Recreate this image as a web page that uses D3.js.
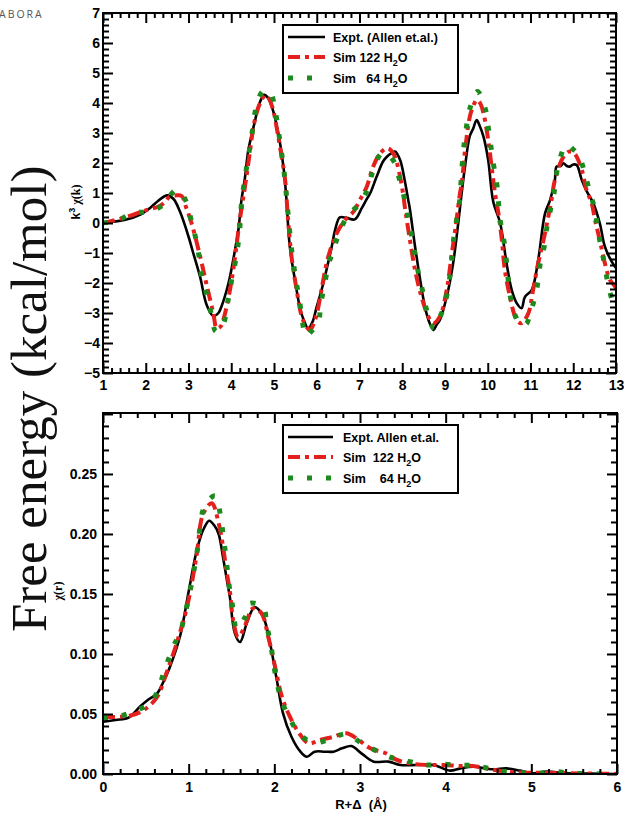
<!DOCTYPE html>
<html><head><meta charset="utf-8">
<script src="https://cdn.jsdelivr.net/npm/d3@7"></script>
<style>body{margin:0;background:#fff}svg{display:block}</style>
</head><body><svg id="c" width="624" height="816"></svg>
<script>
// ---------- Top panel data: k^3 chi(k) vs k ----------
const kTicks = [1,2,3,4,5,6,7,8,9,10,11,12,13];
const kChiTicks = [-5,-4,-3,-2,-1,0,1,2,3,4,5,6,7];

const kExpt = [1.0,1.5,1.9,2.1,2.3,2.5,2.65,2.8,3.0,3.1,3.27,3.43,3.58,3.7,3.78,3.9,3.97,4.1,4.17,4.24,4.32,4.4,4.56,4.65,4.77,4.87,4.95,5.1,5.22,5.28,5.37,5.49,5.61,5.7,5.8,5.9,6.0,6.1,6.19,6.35,6.43,6.54,6.7,6.89,7.05,7.17,7.25,7.4,7.55,7.64,7.75,7.83,7.95,8.06,8.14,8.18,8.3,8.42,8.53,8.63,8.73,8.8,8.88,9.04,9.19,9.31,9.39,9.47,9.58,9.66,9.74,9.82,9.9,10.01,10.13,10.29,10.44,10.56,10.68,10.79,10.87,11.03,11.18,11.34,11.46,11.57,11.61,11.7,11.77,11.85,11.92,12.0,12.08,12.2,12.31,12.47,12.62,12.74,12.9,13.0];
const chiExpt = [0.02,0.1,0.3,0.5,0.75,0.92,0.8,0.38,-0.45,-0.95,-1.79,-2.75,-3.1,-3.0,-2.75,-2.2,-1.79,-0.8,-0.2,0.77,1.5,2.43,3.43,3.95,4.27,4.15,3.88,2.99,1.88,1.0,-0.79,-1.9,-2.85,-3.25,-3.51,-3.3,-2.79,-2.3,-1.79,-0.79,-0.23,0.19,0.17,0.12,0.49,0.8,0.99,1.54,2.05,2.21,2.33,2.38,2.1,1.4,0.77,0.45,-0.79,-1.9,-2.79,-3.3,-3.57,-3.4,-3.23,-2.46,-1.34,0.0,1.0,1.9,2.9,3.15,3.43,3.21,2.88,2.1,0.7,0.0,-1.34,-2.23,-2.68,-2.84,-2.46,-2.23,-1.23,0.32,0.77,1.43,1.88,1.9,1.99,1.9,1.88,1.95,1.93,1.43,1.07,0.66,0.0,-0.79,-1.29,-1.5];

const kSim122 = [1.0,1.5,2.0,2.3,2.45,2.55,2.7,2.84,2.95,3.07,3.27,3.43,3.58,3.66,3.75,3.82,3.97,4.09,4.2,4.32,4.42,4.52,4.62,4.71,4.8,4.88,4.98,5.06,5.14,5.26,5.33,5.41,5.53,5.65,5.76,5.84,5.96,6.03,6.11,6.27,6.47,6.66,6.86,7.01,7.17,7.32,7.48,7.64,7.74,7.83,7.95,8.03,8.06,8.18,8.3,8.45,8.61,8.73,8.88,9.04,9.15,9.27,9.35,9.39,9.47,9.58,9.66,9.74,9.82,9.9,10.01,10.09,10.17,10.25,10.33,10.4,10.52,10.64,10.72,10.79,10.95,11.06,11.18,11.34,11.49,11.57,11.73,11.84,11.9,12.0,12.08,12.2,12.31,12.43,12.51,12.62,12.74,12.86,12.98,13.0];
const chiSim122 = [0.0,0.18,0.42,0.55,0.7,0.87,0.92,0.9,0.5,0.0,-1.1,-2.1,-3.0,-3.51,-3.45,-3.2,-2.23,-1.12,0.1,1.2,2.2,3.21,3.8,4.1,4.27,4.15,3.77,3.2,2.54,1.43,0.1,-1.12,-2.23,-3.12,-3.46,-3.57,-3.23,-2.85,-2.23,-1.12,-0.34,0.1,0.38,0.77,1.21,1.88,2.32,2.49,2.42,2.21,1.54,0.88,0.54,-0.57,-1.57,-2.46,-3.12,-3.34,-3.12,-2.23,-1.12,0.1,0.99,1.3,2.43,3.54,3.9,4.1,4.0,3.66,2.77,1.88,0.99,0.32,-0.57,-1.57,-2.46,-3.12,-3.3,-3.34,-3.01,-2.23,-1.34,-0.34,0.77,1.43,2.1,2.32,2.38,2.35,2.21,1.77,1.1,0.66,0.1,-0.57,-1.34,-1.9,-2.12,-2.2];

const kSim64 = [1.0,1.35,1.71,2.06,2.41,2.52,2.71,2.85,2.96,3.07,3.17,3.25,3.31,3.43,3.53,3.64,3.75,3.83,3.92,4.01,4.11,4.19,4.24,4.32,4.4,4.48,4.59,4.73,4.82,4.92,5.03,5.1,5.16,5.22,5.27,5.31,5.35,5.39,5.45,5.51,5.59,5.65,5.75,5.88,6.04,6.09,6.19,6.27,6.39,6.48,6.71,7.01,7.21,7.32,7.52,7.68,7.83,7.89,8.06,8.14,8.22,8.3,8.38,8.48,8.57,8.74,8.86,8.98,9.08,9.15,9.19,9.26,9.34,9.4,9.47,9.6,9.76,9.94,10.01,10.13,10.21,10.25,10.29,10.37,10.43,10.48,10.53,10.64,10.77,10.9,10.99,11.1,11.18,11.24,11.32,11.38,11.49,11.55,11.65,11.84,12.0,12.14,12.27,12.39,12.51,12.57,12.66,12.74,12.82,12.92,13.0];
const chiSim64 = [0.0,0.09,0.34,0.38,0.6,0.82,1.1,0.95,0.66,0.05,-0.51,-1.14,-1.79,-2.4,-3.01,-3.62,-3.5,-3.32,-2.62,-1.9,-1.18,-0.34,0.66,1.5,2.21,2.93,3.9,4.38,4.4,4.34,3.73,3.1,2.51,1.88,1.23,0.6,-0.01,-0.62,-1.29,-1.9,-2.51,-3.12,-3.77,-3.6,-3.29,-2.73,-2.01,-1.4,-0.9,-0.51,0.21,0.66,1.19,1.77,2.32,2.25,1.99,1.69,0.77,0.16,-0.43,-1.07,-1.68,-2.29,-2.9,-3.51,-3.2,-2.77,-2.12,-1.34,-0.68,0.0,0.71,1.9,2.88,3.9,4.38,3.82,3.21,1.99,1.32,0.71,0.1,-0.51,-1.18,-1.9,-2.46,-3.07,-3.4,-3.37,-3.01,-2.5,-1.9,-1.23,-0.79,-0.18,0.6,0.99,1.93,2.6,2.45,2.21,1.66,1.01,0.43,-0.21,-0.84,-1.46,-2.07,-2.62,-2.9];

// ---------- Bottom panel data: chi(r) vs R+Delta ----------
const rTicks = [0,1,2,3,4,5,6];
const chiRTicks = [0.00,0.05,0.10,0.15,0.20,0.25];

const rExpt = [0,0.15,0.3,0.43,0.53,0.63,0.7,0.78,0.9,1.0,1.1,1.18,1.24,1.3,1.35,1.4,1.45,1.48,1.54,1.6,1.68,1.77,1.87,1.95,2.03,2.1,2.2,2.3,2.38,2.47,2.59,2.69,2.79,2.9,3.02,3.16,3.33,3.47,3.66,3.86,4.05,4.17,4.32,4.55,4.71,4.87,5.02,5.18,5.41,5.7,6.0];
const chirExpt = [0.0436,0.045,0.047,0.056,0.062,0.067,0.076,0.089,0.115,0.152,0.188,0.205,0.211,0.207,0.2,0.181,0.16,0.148,0.117,0.11,0.126,0.139,0.131,0.109,0.078,0.051,0.031,0.019,0.0144,0.0186,0.0186,0.0186,0.0214,0.0233,0.017,0.0103,0.0103,0.0075,0.0075,0.0075,0.0028,0.0047,0.0061,0.0039,0.0047,0.0028,0.0006,0.002,0.0006,0.0003,0.0];

const rSim122 = [0,0.3,0.47,0.63,0.74,0.86,0.98,1.09,1.17,1.27,1.35,1.4,1.44,1.48,1.52,1.58,1.66,1.75,1.85,1.93,2.01,2.09,2.18,2.28,2.4,2.53,2.69,2.84,2.96,3.12,3.31,3.43,3.58,3.78,3.97,4.17,4.32,4.52,4.71,4.94,5.2,5.6,6.0];
const chirSim122 = [0.0478,0.0483,0.053,0.064,0.084,0.109,0.139,0.181,0.217,0.2256,0.209,0.19,0.17,0.153,0.128,0.114,0.124,0.138,0.134,0.114,0.089,0.064,0.048,0.035,0.0256,0.0283,0.031,0.0339,0.0297,0.0214,0.017,0.0117,0.0089,0.0075,0.0075,0.0067,0.0067,0.0039,0.0019,0.0011,0.001,0.0005,0.0];

const rSim64 = [0,0.18,0.35,0.55,0.65,0.7,0.82,0.9,0.96,1.05,1.1,1.19,1.31,1.37,1.4,1.43,1.48,1.52,1.56,1.66,1.71,1.87,1.91,1.96,1.99,2.03,2.08,2.18,2.3,2.47,2.67,2.84,3.02,3.21,3.39,3.58,3.78,3.95,4.15,4.32,4.5,4.69,4.89,5.06,5.26,5.5,6.0];
const chirSim64 = [0.047,0.048,0.052,0.059,0.071,0.0825,0.106,0.118,0.134,0.165,0.186,0.224,0.2317,0.216,0.2006,0.184,0.153,0.137,0.121,0.131,0.142,0.139,0.124,0.1075,0.092,0.077,0.0617,0.0464,0.0325,0.0261,0.0297,0.0333,0.0256,0.0186,0.0131,0.0103,0.0075,0.0083,0.0075,0.007,0.0047,0.002,0.001,0.0005,0.002,0.0005,0.0];

// legend labels (parts: [text, subscript, text])
const legendTop = [["Expt. (Allen et.al.)"],["Sim 122 H","2","O"],["Sim   64 H","2","O"]];
const legendBottom = [["Expt. Allen et.al."],["Sim  122 H","2","O"],["Sim    64 H","2","O"]];

// ---------- drawing ----------
const svg = d3.select("#c");
const FONT = "'Liberation Sans', Arial, sans-serif";
const styles = [
  {stroke:"#000000", width:2.6, dash:null},
  {stroke:"#e3201b", width:4, dash:"12 5 4 5"},
  {stroke:"#1c8a1c", width:5, dash:"5 14"}
];

function drawPanel(cfg){
  const x = d3.scaleLinear().domain(cfg.xDom).range([cfg.x0, cfg.x1]);
  const y = d3.scaleLinear().domain(cfg.yDom).range([cfg.y1, cfg.y0]);
  const g = svg.append("g");

  const clipId = "clip"+cfg.id;
  svg.append("clipPath").attr("id", clipId).append("rect")
    .attr("x", cfg.x0).attr("y", cfg.y0).attr("width", cfg.x1-cfg.x0).attr("height", cfg.y1-cfg.y0);

  const line = d3.line().x(d=>x(d[0])).y(d=>y(d[1])).curve(d3.curveCatmullRom.alpha(0.5));
  const plot = g.append("g").attr("clip-path", `url(#${clipId})`);
  cfg.series.forEach((s,i)=>{
    const pts = s.xs.map((v,j)=>[v, s.ys[j]]);
    const st = styles[i];
    plot.append("path").attr("d", line(pts)).attr("fill","none")
      .attr("stroke", st.stroke).attr("stroke-width", st.width)
      .attr("stroke-dasharray", st.dash).attr("stroke-linejoin","round");
  });

  const xMinor = cfg.xMinor.filter(v=>!cfg.xTicks.some(t=>Math.abs(t-v)<1e-6));
  const yMinor = cfg.yMinor.filter(v=>!cfg.yMajor.some(t=>Math.abs(t-v)<1e-6));
  const axStyle = sel => { sel.select(".domain").remove(); sel.selectAll("line").attr("stroke","#000").attr("stroke-width",2); };

  g.append("g").attr("transform",`translate(0,${cfg.y1})`).call(d3.axisBottom(x).tickValues(xMinor).tickSize(-5).tickFormat("")).call(axStyle);
  g.append("g").attr("transform",`translate(0,${cfg.y0})`).call(d3.axisTop(x).tickValues(xMinor).tickSize(-5).tickFormat("")).call(axStyle);
  g.append("g").attr("transform",`translate(${cfg.x0},0)`).call(d3.axisLeft(y).tickValues(yMinor).tickSize(-6).tickFormat("")).call(axStyle);
  g.append("g").attr("transform",`translate(${cfg.x1},0)`).call(d3.axisRight(y).tickValues(yMinor).tickSize(-6).tickFormat("")).call(axStyle);

  const bx = g.append("g").attr("transform",`translate(0,${cfg.y1})`)
    .call(d3.axisBottom(x).tickValues(cfg.xTicks).tickSize(-10).tickPadding(cfg.xPad).tickFormat(d3.format("d"))).call(axStyle);
  g.append("g").attr("transform",`translate(0,${cfg.y0})`).call(d3.axisTop(x).tickValues(cfg.xTicks).tickSize(-10).tickFormat("")).call(axStyle);
  const by = g.append("g").attr("transform",`translate(${cfg.x0},0)`)
    .call(d3.axisLeft(y).tickValues(cfg.yMajor).tickSize(-10).tickPadding(cfg.yPad).tickFormat(v=> cfg.yLabels.some(t=>Math.abs(t-v)<1e-9)? cfg.yFmt(v):"")).call(axStyle);
  g.append("g").attr("transform",`translate(${cfg.x1},0)`).call(d3.axisRight(y).tickValues(cfg.yMajor).tickSize(-10).tickFormat("")).call(axStyle);
  [bx,by].forEach(a=>a.selectAll("text").attr("font-family",FONT).attr("font-weight","bold").attr("font-size",14).attr("fill","#000"));

  g.append("rect").attr("x",cfg.x0).attr("y",cfg.y0).attr("width",cfg.x1-cfg.x0).attr("height",cfg.y1-cfg.y0)
    .attr("fill","none").attr("stroke","#000").attr("stroke-width",2);

  const L = cfg.legend;
  g.append("rect").attr("x",L.x).attr("y",L.y).attr("width",L.w).attr("height",L.h)
    .attr("fill","#fff").attr("stroke","#000").attr("stroke-width",2);
  L.labels.forEach((parts,i)=>{
    const yy = L.rows[i];
    const st = styles[i];
    g.append("line").attr("x1",L.lx0).attr("x2",L.lx1).attr("y1",yy).attr("y2",yy)
      .attr("stroke",st.stroke).attr("stroke-width",st.width).attr("stroke-dasharray",st.dash);
    const t = g.append("text").attr("x",L.tx).attr("y",yy+4.5).attr("font-family",FONT).attr("font-weight","bold")
      .attr("font-size",12.5).style("white-space","pre");
    t.append("tspan").text(parts[0]);
    if(parts.length>1){
      t.append("tspan").attr("dy",4).attr("font-size",9).text(parts[1]);
      t.append("tspan").attr("dy",-4).text(parts[2]);
    }
  });
  return {x,y};
}

drawPanel({
  id:"top", x0:103, x1:616, y0:13, y1:373, xDom:[1,13], yDom:[-5,7],
  xTicks:kTicks, xMinor:d3.range(1,13.0001,0.2), yMajor:kChiTicks, yLabels:kChiTicks, yMinor:d3.range(-5,7.0001,0.2),
  yFmt:d3.format("d"), xPad:7, yPad:3,
  series:[{xs:kExpt,ys:chiExpt},{xs:kSim122,ys:chiSim122},{xs:kSim64,ys:chiSim64}],
  legend:{x:283,y:25,w:175,h:68,rows:[37,57,78],lx0:288,lx1:325,tx:333,labels:legendTop}
});

svg.append("text").attr("transform","translate(80,202) rotate(-90)").attr("text-anchor","middle")
  .attr("font-family",FONT).attr("font-weight","bold").attr("font-size",12)
  .call(t=>{ t.append("tspan").text("k"); t.append("tspan").attr("dy",-5).attr("font-size",9).text("3");
    t.append("tspan").attr("dy",5).attr("font-family","'Liberation Serif', serif").attr("font-size",12).text(" \u03C7(k)"); });
svg.append("text").attr("x",361).attr("y",413).attr("text-anchor","middle")
  .attr("font-family",FONT).attr("font-weight","bold").attr("font-size",13)
  .call(t=>{ t.append("tspan").text("k (\u00C5"); t.append("tspan").attr("dy",-6).attr("font-size",9).text("-1");
    t.append("tspan").attr("dy",6).text(")"); });
svg.append("rect").attr("x",95).attr("y",401).attr("width",529).attr("height",415).attr("fill","#fff");

drawPanel({
  id:"bot", x0:103, x1:617, y0:413, y1:774, xDom:[0,6], yDom:[0,0.3008],
  xTicks:rTicks, xMinor:d3.range(0,6.0001,0.2), yMajor:[0,0.05,0.10,0.15,0.20,0.25,0.30], yLabels:chiRTicks, yMinor:d3.range(0,0.3001,0.01),
  yFmt:d3.format(".2f"), xPad:8, yPad:6,
  series:[{xs:rExpt,ys:chirExpt},{xs:rSim122,ys:chirSim122},{xs:rSim64,ys:chirSim64}],
  legend:{x:283,y:425,w:175,h:68,rows:[437,457,478],lx0:288,lx1:333,tx:343,labels:legendBottom}
});

svg.append("text").attr("transform","translate(62,591) rotate(-90)").attr("text-anchor","middle")
  .attr("font-family","'Liberation Serif', serif").attr("font-weight","bold").attr("font-size",12).text("\u03C7(r)");
svg.append("text").attr("x",361).attr("y",809).attr("text-anchor","middle")
  .attr("font-family",FONT).attr("font-weight","bold").attr("font-size",13).style("white-space","pre").text("R+\u0394  (\u00C5)");

svg.append("text").attr("x",-1).attr("y",17.5).attr("font-family","'Open Sans', sans-serif").attr("font-size",10.5)
  .attr("letter-spacing",2).attr("fill","#555").text("ABORA");
svg.append("text").attr("transform","translate(46,632) rotate(-90)").attr("font-family","'Liberation Serif', 'Times New Roman', serif")
  .attr("font-size",51).attr("fill","#111").text("Free energy (kcal/mol)");
</script></body></html>
